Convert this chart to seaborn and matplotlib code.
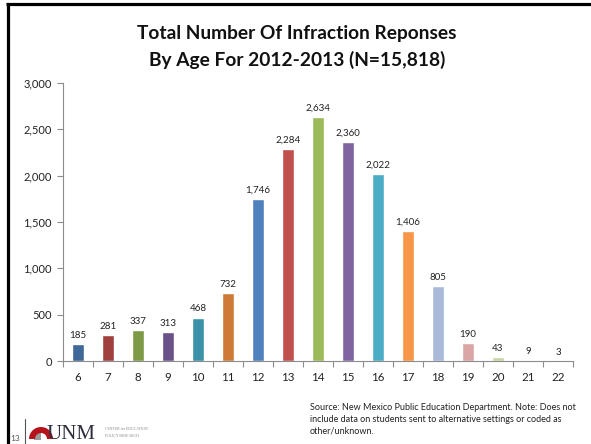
import matplotlib
matplotlib.use("Agg")
import matplotlib.pyplot as plt
import matplotlib.patches as mpatches
from matplotlib.ticker import FuncFormatter, FixedLocator
import seaborn as sns
import pandas as pd

# Infraction responses by student age, 2012-2013
ages = ["6", "7", "8", "9", "10", "11", "12", "13", "14", "15", "16",
        "17", "18", "19", "20", "21", "22"]
responses = [185, 281, 337, 313, 468, 732, 1746, 2284, 2634, 2360, 2022,
             1406, 805, 190, 43, 9, 3]
bar_colors = ["#3F6797", "#A0403E", "#7E9A46", "#6A5289", "#3A91A8", "#CE7A36",
              "#4F81BD", "#C0504D", "#9BBB59", "#8064A2", "#4BACC6", "#F79646",
              "#A9B9D9", "#D9A6A5", "#C5D6A4", "#B6A7CA", "#A2CFDE"]

title_lines = ["Total Number Of Infraction Reponses",
               "By Age For 2012-2013 (N=15,818)"]
source_lines = ["Source: New Mexico Public Education Department. Note: Does not",
                "include data on students sent to alternative settings or coded as",
                "other/unknown."]

sns.set_theme(style="white")
plt.rcParams["font.family"] = ["Lato", "DejaVu Sans"]

W, H = 591, 444
fig = plt.figure(figsize=(W / 100, H / 100), dpi=100)
fig.patch.set_facecolor("white")

def fx(px):
    return px / W

def fy(py):
    return 1 - py / H

ax = fig.add_axes([fx(63), fy(361), fx(573) - fx(63), fy(83) - fy(361)])

df = pd.DataFrame({"age": ages, "responses": responses})
sns.barplot(data=df, x="age", y="responses", hue="age", palette=bar_colors,
            order=ages, hue_order=ages, width=0.4, legend=False, ax=ax,
            saturation=1)

for i, v in enumerate(responses):
    ax.annotate(f"{v:,}", (i, v), xytext=(0, 3), textcoords="offset points",
                ha="center", va="bottom", fontsize=7, color="#222222")

ax.set_ylim(0, 3000)
ax.set_yticks(range(0, 3001, 500))
ax.yaxis.set_major_formatter(FuncFormatter(lambda v, p: f"{int(v):,}"))
ax.set_xlim(-0.5, len(ages) - 0.5)
ax.set_xlabel("")
ax.set_ylabel("")

for side in ["top", "right"]:
    ax.spines[side].set_visible(False)
for side in ["left", "bottom"]:
    ax.spines[side].set_color("#8C8C8C")
    ax.spines[side].set_linewidth(0.8)

ax.tick_params(axis="y", which="major", left=True, length=4, width=0.8,
               color="#8C8C8C", labelsize=8, labelcolor="#222222", pad=4)
ax.tick_params(axis="x", which="major", bottom=False, length=0,
               labelsize=8.3, labelcolor="#222222", pad=8)
ax.xaxis.set_minor_locator(FixedLocator([i - 0.5 for i in range(len(ages) + 1)]))
ax.tick_params(axis="x", which="minor", bottom=True, length=4, width=0.8,
               color="#8C8C8C")
ax.grid(False)

# Page-level overlay in pixel units for the frame, title, note and footer
page = fig.add_axes([0, 0, 1, 1], zorder=-1)
page.set_xlim(0, W)
page.set_ylim(H, 0)
page.axis("off")

page.text(297, 33, title_lines[0], ha="center", va="center",
          fontsize=13.8, fontweight="bold", color="#111111")
page.text(297, 60, title_lines[1], ha="center", va="center",
          fontsize=13.8, fontweight="bold", color="#111111")

for k, line in enumerate(source_lines):
    page.text(310, 407 + 12 * k, line, ha="left", va="center",
              fontsize=6.5, color="#222222")

# Slide frame
page.plot([6, W], [4.5, 4.5], color="black", linewidth=2.3,
          solid_capstyle="butt")
page.plot([7.5, 7.5], [3.5, H], color="black", linewidth=2.3,
          solid_capstyle="butt")

# Footer: page number and logo
page.text(15, 438, "13", ha="center", va="center", fontsize=6,
          color="#555555")
page.plot([25, 25], [419, H], color="#555555", linewidth=0.8)
page.add_patch(mpatches.Rectangle((34, 431), 7, 9, facecolor="#9A9A9A",
                                  edgecolor="none"))
page.add_patch(mpatches.Wedge((41, 439), 12, 180, 360, width=6,
                              facecolor="#B5121B", edgecolor="none"))
page.text(71, 434, "UNM", ha="center", va="center", fontsize=15,
          family=["Liberation Serif"], color="#2E2E3E")
page.text(105, 429, "CENTER for EDUCATION", ha="left", va="center",
          fontsize=2.8, family=["Liberation Serif"], color="#888888")
page.text(105, 436, "POLICY RESEARCH", ha="left", va="center",
          fontsize=2.8, family=["Liberation Serif"], color="#888888")

fig.savefig("out.png", dpi=100, facecolor="white")
